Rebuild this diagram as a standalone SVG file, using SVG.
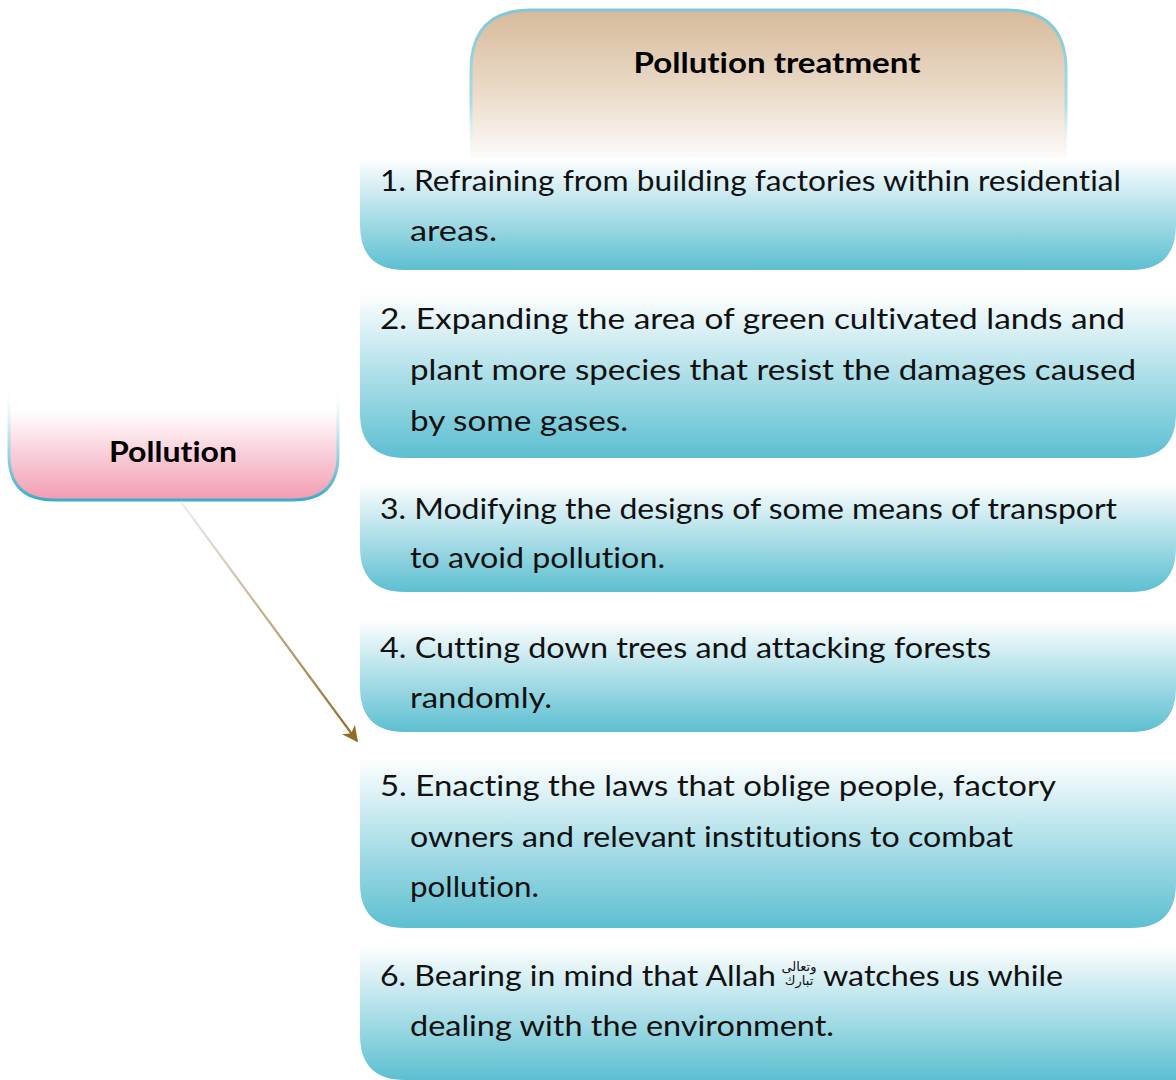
<svg xmlns="http://www.w3.org/2000/svg" width="1176" height="1080" viewBox="0 0 1176 1080">
<defs>
<linearGradient id="gHead" x1="0" y1="0" x2="0" y2="1">
<stop offset="0" stop-color="#d7ba9a"/>
<stop offset="0.55" stop-color="#ecdccb"/>
<stop offset="1" stop-color="#ffffff"/>
</linearGradient>
<linearGradient id="sHead" x1="0" y1="0" x2="0" y2="1">
<stop offset="0" stop-color="#7fc8d8"/>
<stop offset="0.6" stop-color="#a9dbe5"/>
<stop offset="1" stop-color="#ffffff" stop-opacity="0"/>
</linearGradient>
<linearGradient id="gBox" x1="0" y1="0" x2="0" y2="1">
<stop offset="0" stop-color="#ffffff"/>
<stop offset="0.15" stop-color="#e6f5f8"/>
<stop offset="1" stop-color="#5cbfd1"/>
</linearGradient>
<linearGradient id="gPink" x1="0" y1="0" x2="0" y2="1">
<stop offset="0" stop-color="#ffffff"/>
<stop offset="0.22" stop-color="#ffffff"/>
<stop offset="1" stop-color="#f29cb2"/>
</linearGradient>
<linearGradient id="sPink" x1="0" y1="0" x2="0" y2="1">
<stop offset="0" stop-color="#ffffff" stop-opacity="0"/>
<stop offset="0.3" stop-color="#e0f1f5"/>
<stop offset="1" stop-color="#3eacc6"/>
</linearGradient>
<linearGradient id="gArrow" gradientUnits="userSpaceOnUse" x1="181" y1="502" x2="357" y2="741">
<stop offset="0" stop-color="#eeeeee"/>
<stop offset="1" stop-color="#956a24"/>
</linearGradient>
<marker id="ah" viewBox="0 0 10 10" refX="9" refY="5" markerWidth="16" markerHeight="16" markerUnits="userSpaceOnUse" orient="auto">
<path d="M0,0 L10,5 L0,10 L3,5 Z" fill="#956a24"/>
</marker>
</defs>
<style>
.t{font-family:"Century Gothic","URW Gothic","Lato","DejaVu Sans",sans-serif;font-size:28px;fill:#111;font-variant-ligatures:none}
.b{font-family:"Century Gothic","URW Gothic","Lato","DejaVu Sans",sans-serif;font-size:29px;font-weight:bold;fill:#000;font-variant-ligatures:none}
.ar{font-family:"DejaVu Sans",sans-serif;font-size:13px;fill:#111}
.box{fill:url(#gBox)}
</style>

<g id="header">
<path d="M471,165 L471,70 Q471,10 531,10 L1006,10 Q1066,10 1066,70 L1066,165 Z" fill="url(#gHead)"/>
<path d="M471,165 L471,70 Q471,10 531,10 L1006,10 Q1066,10 1066,70 L1066,165" fill="none" stroke="url(#sHead)" stroke-width="3"/>
<text class="b" x="777" y="73" text-anchor="middle" textLength="287" lengthAdjust="spacingAndGlyphs">Pollution treatment</text>
</g>

<g id="pollution">
<path d="M9,385 L9,455 Q9,500 54,500 L293,500 Q338,500 338,455 L338,385 Z" fill="url(#gPink)"/>
<path d="M9,385 L9,455 Q9,500 54,500 L293,500 Q338,500 338,455 L338,385" fill="none" stroke="url(#sPink)" stroke-width="3"/>
<text class="b" x="173" y="462" text-anchor="middle" textLength="128" lengthAdjust="spacingAndGlyphs">Pollution</text>
</g>

<g id="connectors">
<line x1="181" y1="502" x2="357" y2="741" stroke="url(#gArrow)" stroke-width="2.2" marker-end="url(#ah)"/>
</g>

<g id="item1">
<path class="box" d="M360,158 L1176,158 L1176,225 Q1176,270 1131,270 L405,270 Q360,270 360,225 Z"/>
<text class="t" x="380" y="191" textLength="741" lengthAdjust="spacingAndGlyphs">1. Refraining from building factories within residential</text>
<text class="t" x="410" y="241" textLength="87" lengthAdjust="spacingAndGlyphs">areas.</text>
</g>

<g id="item2">
<path class="box" d="M360,293 L1176,293 L1176,413 Q1176,458 1131,458 L405,458 Q360,458 360,413 Z"/>
<text class="t" x="380" y="329" textLength="745" lengthAdjust="spacingAndGlyphs">2. Expanding the area of green cultivated lands and</text>
<text class="t" x="410" y="380" textLength="726" lengthAdjust="spacingAndGlyphs">plant more species that resist the damages caused</text>
<text class="t" x="410" y="431" textLength="218" lengthAdjust="spacingAndGlyphs">by some gases.</text>
</g>

<g id="item3">
<path class="box" d="M360,482 L1176,482 L1176,547 Q1176,592 1131,592 L405,592 Q360,592 360,547 Z"/>
<text class="t" x="380" y="519" textLength="737" lengthAdjust="spacingAndGlyphs">3. Modifying the designs of some means of transport</text>
<text class="t" x="410" y="568" textLength="255" lengthAdjust="spacingAndGlyphs">to avoid pollution.</text>
</g>

<g id="item4">
<path class="box" d="M360,620 L1176,620 L1176,687 Q1176,732 1131,732 L405,732 Q360,732 360,687 Z"/>
<text class="t" x="380" y="658" textLength="611" lengthAdjust="spacingAndGlyphs">4. Cutting down trees and attacking forests</text>
<text class="t" x="410" y="708" textLength="142" lengthAdjust="spacingAndGlyphs">randomly.</text>
</g>

<g id="item5">
<path class="box" d="M360,758 L1176,758 L1176,883 Q1176,928 1131,928 L405,928 Q360,928 360,883 Z"/>
<text class="t" x="380" y="796" textLength="676" lengthAdjust="spacingAndGlyphs">5. Enacting the laws that oblige people, factory</text>
<text class="t" x="410" y="847" textLength="603" lengthAdjust="spacingAndGlyphs">owners and relevant institutions to combat</text>
<text class="t" x="410" y="897" textLength="129" lengthAdjust="spacingAndGlyphs">pollution.</text>
</g>

<g id="item6">
<path class="box" d="M360,945 L1176,945 L1176,1080 L405,1080 Q360,1080 360,1035 Z"/>
<text class="t" x="380" y="986" textLength="396" lengthAdjust="spacingAndGlyphs">6. Bearing in mind that Allah</text>
<text class="ar" x="799" y="971" text-anchor="middle">وتعالى</text>
<text class="ar" x="799" y="985" text-anchor="middle">تبارك</text>
<text class="t" x="823" y="986" textLength="240" lengthAdjust="spacingAndGlyphs">watches us while</text>
<text class="t" x="410" y="1036" textLength="424" lengthAdjust="spacingAndGlyphs">dealing with the environment.</text>
</g>
</svg>
